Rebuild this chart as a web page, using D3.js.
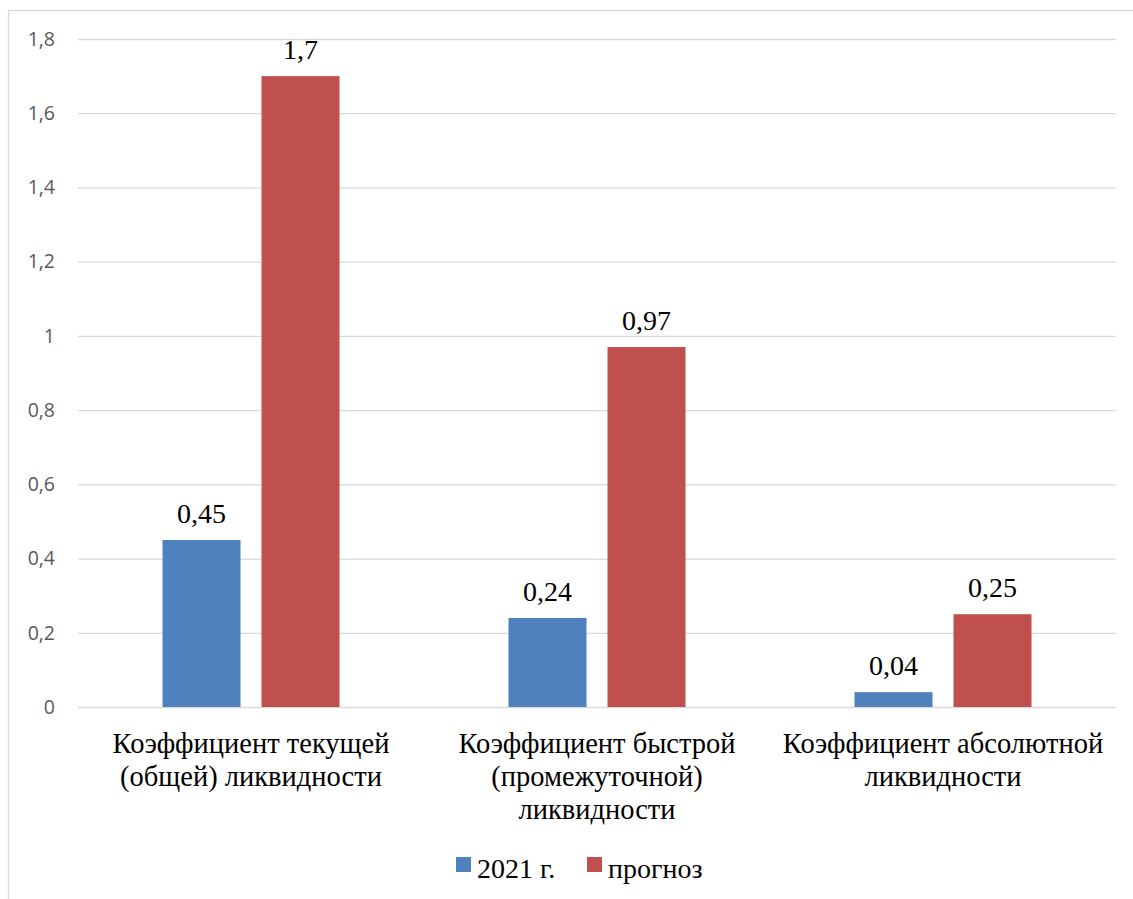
<!DOCTYPE html>
<html>
<head>
<meta charset="utf-8">
<script src="https://cdn.jsdelivr.net/npm/d3@7"></script>
<style>
  html, body { margin: 0; padding: 0; background: #fff; }
  svg { display: block; }
</style>
</head>
<body>
<svg id="chart" width="1133" height="899"></svg>
<script>
// Liquidity ratios: actual 2021 vs forecast
const categories = [
  ["Коэффициент текущей", "(общей) ликвидности"],
  ["Коэффициент быстрой", "(промежуточной)", "ликвидности"],
  ["Коэффициент абсолютной", "ликвидности"]
];
const seriesNames = ["2021 г.", "прогноз"];
const values2021 = [0.45, 0.24, 0.04];
const valuesForecast = [1.7, 0.97, 0.25];
const valueLabels2021 = ["0,45", "0,24", "0,04"];
const valueLabelsForecast = ["1,7", "0,97", "0,25"];
const yTicks = [0, 0.2, 0.4, 0.6, 0.8, 1, 1.2, 1.4, 1.6, 1.8];
const colors = ["#4f81bd", "#c0504d"];

const TEXT_FONT = "'Times New Roman', 'Liberation Serif', serif";
const AXIS_FONT = "'Open Sans', sans-serif";

const svg = d3.select("#chart");
const margin = { left: 78, right: 1116, top: 39, bottom: 707 };

// Chart area frame
svg.append("rect")
  .attr("x", 8.5).attr("y", 10.5)
  .attr("width", 1140).attr("height", 900)
  .attr("fill", "none").attr("stroke", "#d9d9d9").attr("stroke-width", 1.3);

const y = d3.scaleLinear().domain([0, 1.8]).range([margin.bottom, margin.top]);
const x0 = d3.scaleBand().domain(d3.range(categories.length))
  .range([margin.left, margin.right]).paddingInner(0).paddingOuter(0);
const barW = 78, gap = 21;
const x1 = d3.scaleBand().domain([0, 1]).range([0, barW * 2 + gap]).paddingInner(gap / (barW + gap));

// Gridlines and y-axis labels
const yAxis = d3.axisLeft(y).tickValues(yTicks)
  .tickSize(-(margin.right - margin.left))
  .tickFormat(d => String(d).replace(".", ","));
const ga = svg.append("g").attr("transform", `translate(${margin.left},0)`).call(yAxis);
ga.attr("font-family", AXIS_FONT).attr("font-size", 19.5);
ga.select(".domain").remove();
ga.selectAll(".tick line").attr("stroke", "#d9d9d9").attr("stroke-width", 1.3);
ga.selectAll(".tick text")
  .attr("x", -23)
  .attr("fill", "#595959");

const series = [values2021, valuesForecast];
const labels = [valueLabels2021, valueLabelsForecast];

const groups = svg.append("g").selectAll("g")
  .data(categories.map((c, i) => i))
  .join("g")
  .attr("transform", i => `translate(${x0(i) + (x0.bandwidth() - (barW * 2 + gap)) / 2},0)`);

[0, 1].forEach(s => {
  groups.append("rect")
    .attr("x", x1(s))
    .attr("width", x1.bandwidth())
    .attr("y", i => y(series[s][i]))
    .attr("height", i => y(0) - y(series[s][i]))
    .attr("fill", colors[s]);
  groups.append("text")
    .attr("font-family", TEXT_FONT)
    .attr("font-size", 28)
    .attr("x", x1(s) + x1.bandwidth() / 2)
    .attr("y", i => y(series[s][i]) - 17)
    .attr("text-anchor", "middle")
    .attr("fill", "#000")
    .text(i => labels[s][i]);
});

// Category labels
categories.forEach((lines, i) => {
  const t = svg.append("text")
    .attr("font-family", TEXT_FONT)
    .attr("font-size", 28.5)
    .attr("text-anchor", "middle")
    .attr("fill", "#000");
  lines.forEach((ln, k) => {
    t.append("tspan")
      .attr("x", x0(i) + x0.bandwidth() / 2)
      .attr("y", 753 + k * 33)
      .text(ln);
  });
});

// Legend
const legend = [
  { name: seriesNames[0], color: colors[0], x: 456 },
  { name: seriesNames[1], color: colors[1], x: 587 }
];
legend.forEach(l => {
  svg.append("rect").attr("x", l.x).attr("y", 857).attr("width", 15).attr("height", 15).attr("fill", l.color);
  svg.append("text")
    .attr("font-family", TEXT_FONT)
    .attr("font-size", 28)
    .attr("x", l.x + 21).attr("y", 878)
    .attr("fill", "#000")
    .text(l.name);
});
</script>
</body>
</html>
